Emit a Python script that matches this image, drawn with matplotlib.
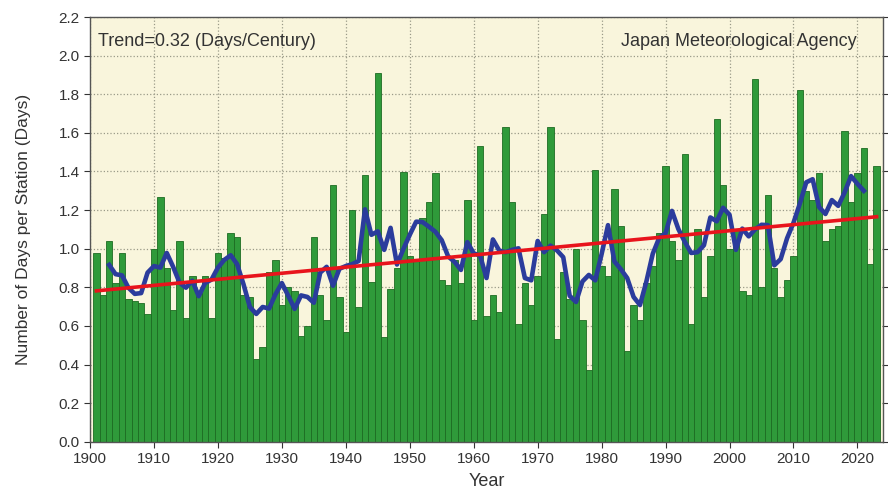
import numpy as np
import matplotlib
matplotlib.use("Agg")
import matplotlib.pyplot as plt

plt.rcParams['font.family'] = ['Liberation Sans', 'DejaVu Sans']

years = list(range(1901, 2024))
days = [
    0.98, 0.76, 1.04, 0.82, 0.98, 0.74, 0.73, 0.72, 0.66, 1.00,  # 1901-1910
    1.27, 0.90, 0.68, 1.04, 0.64, 0.86, 0.77, 0.86, 0.64, 0.98,  # 1911-1920
    0.95, 1.08, 1.06, 0.76, 0.75, 0.43, 0.49, 0.88, 0.94, 0.71,  # 1921-1930
    0.80, 0.78, 0.55, 0.60, 1.06, 0.76, 0.63, 1.33, 0.75, 0.57,  # 1931-1940
    1.20, 0.70, 1.38, 0.83, 1.91, 0.54, 0.79, 0.90, 1.40, 0.96,  # 1941-1950
    0.94, 1.16, 1.24, 1.39, 0.84, 0.81, 0.94, 0.82, 1.25, 0.63,  # 1951-1960
    1.53, 0.65, 0.76, 0.67, 1.63, 1.24, 0.61, 0.82, 0.71, 0.86,  # 1961-1970
    1.18, 1.63, 0.53, 0.88, 0.74, 1.00, 0.63, 0.37, 1.41, 0.91,  # 1971-1980
    0.86, 1.31, 1.12, 0.47, 0.71, 0.63, 0.82, 0.91, 1.08, 1.43,  # 1981-1990
    1.04, 0.94, 1.49, 0.61, 1.10, 0.75, 0.96, 1.67, 1.33, 1.00,  # 1991-2000
    1.10, 0.78, 0.76, 1.88, 0.80, 1.28, 0.90, 0.75, 0.84, 0.96,  # 2001-2010
    1.82, 1.30, 1.25, 1.39, 1.04, 1.10, 1.12, 1.61, 1.24, 1.39,  # 2011-2020
    1.52, 0.92, 1.43,                                            # 2021-2023
]

yrs = np.array(years)
vals = np.array(days)

# 5-year running mean (centred)
run = np.convolve(vals, np.ones(5) / 5, mode='valid')
run_yrs = yrs[2:-2]

# linear trend
coef = np.polyfit(yrs, vals, 1)
trend = np.polyval(coef, yrs)

fig = plt.figure(figsize=(8.88, 5.03), dpi=100)
ax = fig.add_axes([90 / 888, 1 - 441.7 / 503, 793 / 888, 424.6 / 503])
ax.set_facecolor('#f9f5dc')

ax.bar(yrs, vals, width=1.0, color='#2f9a3a', edgecolor='#1d6b22', linewidth=0.6, zorder=2)
ax.plot(run_yrs, run, color='#2b3c9c', linewidth=3.3, zorder=3)
ax.plot(yrs, trend, color='#e8141c', linewidth=2.6, zorder=4)

ax.set_xlim(1900, 2024)
ax.set_ylim(0, 2.2)
ax.set_xticks(range(1900, 2021, 10))
ax.set_yticks(np.arange(0, 2.21, 0.2))
ax.set_yticklabels([f'{v:.1f}' for v in np.arange(0, 2.21, 0.2)])
ax.grid(True, color='#9a9a88', linestyle=':', linewidth=0.9, zorder=1)
ax.set_axisbelow(True)
ax.tick_params(axis='both', direction='out', length=4, labelsize=11, colors='#333333',
               top=False, right=True)
for s in ax.spines.values():
    s.set_color('#555555')
    s.set_linewidth(1.0)

ax.set_xlabel('Year', fontsize=13, color='#333333', labelpad=5)
ax.set_ylabel('Number of Days per Station (Days)', fontsize=12.5, color='#333333', labelpad=20)

ax.text(0.01, 0.962, 'Trend=0.32 (Days/Century)', transform=ax.transAxes,
        fontsize=13, color='#333333', va='top', ha='left')
ax.text(0.967, 0.962, 'Japan Meteorological Agency', transform=ax.transAxes,
        fontsize=13, color='#333333', va='top', ha='right')

fig.savefig('out.png', dpi=100)
